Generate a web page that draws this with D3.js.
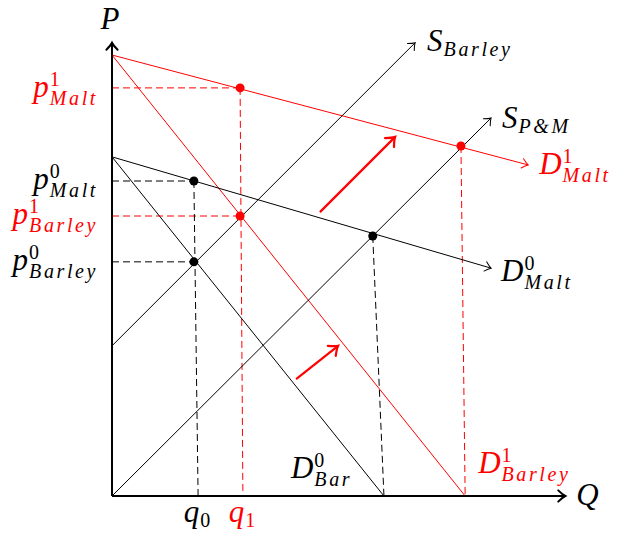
<!DOCTYPE html>
<html>
<head>
<meta charset="utf-8">
<script src="https://cdn.jsdelivr.net/npm/d3@7"></script>
<style>
  body { margin: 0; background: #fff; }
  text { font-family: "Liberation Serif", "DejaVu Serif", serif; }
</style>
</head>
<body>
<div id="chart"></div>
<script>
// curves, in chart units (origin at bottom-left of the axes)
const dMalt1   = [[0, 12.6], [11.89, 9.46]];
const dBarley1 = [[0, 12.6], [10.09, 0]];
const dMalt0   = [[0, 9.69], [10.83, 6.51]];
const dBar0    = [[0, 9.69], [7.77, 0]];
const sBarley  = [[0, 4.29], [8.66, 12.95]];
const sPM      = [[0, 0], [10.83, 10.8]];

// equilibrium points: [x, y, foot x on the Q axis, colour]
const points = [
  [2.34, 9.0, 2.46, "black"],
  [2.34, 6.69, 2.46, "black"],
  [7.45, 7.43, 7.77, "black"],
  [3.66, 11.66, 3.74, "red"],
  [3.66, 8.0, 3.74, "red"],
  [9.97, 10.0, 10.09, "red"]
];
// which points get a horizontal guide to the P axis
const hGuides = [0, 1, 3, 4];
// which points get a vertical guide to the Q axis
const vGuides = [0, 2, 3, 5];

const shiftArrows = [[[5.94, 8.11], [8.09, 10.26]], [[5.26, 3.34], [6.46, 4.29]]];

const width = 617, height = 534;
const axisMax = 12.95;

let svg = d3.select("#chart").append("svg")
  .attr("width", width).attr("height", height);

let x = d3.scaleLinear().domain([0, 13]).range([112, 567]);
let y = d3.scaleLinear().domain([0, 13]).range([496, 41]);

let defs = svg.append("defs");
function marker(id, color, size, sw) {
  defs.append("marker")
    .attr("id", id)
    .attr("viewBox", "-10 -10 20 20")
    .attr("refX", 0).attr("refY", 0)
    .attr("markerUnits", "userSpaceOnUse")
    .attr("markerWidth", 20).attr("markerHeight", 20)
    .attr("orient", "auto")
    .append("path")
    .attr("d", `M${-size},${-size * 0.8} Q${-size * 0.4},${-size * 0.2} 0,0 Q${-size * 0.4},${size * 0.2} ${-size},${size * 0.8}`)
    .attr("fill", "none")
    .attr("stroke", color)
    .attr("stroke-width", sw)
    .attr("stroke-linecap", "round");
}
marker("arr-k", "black", 6, 1);
marker("arr-r", "red", 6, 1);
marker("arr-axis", "black", 7, 2);
marker("arr-shift", "red", 8, 2.2);

let line = d3.line().x(d => x(d[0])).y(d => y(d[1]));

// dashed guides
hGuides.forEach(i => {
  let p = points[i];
  svg.append("path")
    .attr("d", line([[0, p[1]], [p[0], p[1]]]))
    .attr("stroke", p[3]).attr("stroke-width", 1)
    .attr("stroke-dasharray", "7,4").attr("fill", "none");
});
vGuides.forEach(i => {
  let p = points[i];
  svg.append("path")
    .attr("d", line([[p[0], p[1]], [p[2], 0]]))
    .attr("stroke", p[3]).attr("stroke-width", 1)
    .attr("stroke-dasharray", "7,4").attr("fill", "none");
});

// curves
const curves = [
  [dMalt1, "red", "arr-r"],
  [dBarley1, "red", null],
  [dMalt0, "black", "arr-k"],
  [dBar0, "black", null],
  [sBarley, "black", "arr-k"],
  [sPM, "black", "arr-k"]
];
curves.forEach(c => {
  let p = svg.append("path")
    .attr("d", line(c[0]))
    .attr("stroke", c[1]).attr("stroke-width", 1).attr("fill", "none");
  if (c[2]) p.attr("marker-end", `url(#${c[2]})`);
});

// axes
svg.append("path").attr("d", line([[0, 0], [0, axisMax]]))
  .attr("stroke", "black").attr("stroke-width", 2).attr("fill", "none")
  .attr("marker-end", "url(#arr-axis)");
svg.append("path").attr("d", line([[0, 0], [axisMax, 0]]))
  .attr("stroke", "black").attr("stroke-width", 2).attr("fill", "none")
  .attr("marker-end", "url(#arr-axis)");

// shift arrows
shiftArrows.forEach(a => {
  svg.append("path").attr("d", line(a))
    .attr("stroke", "red").attr("stroke-width", 2.2).attr("fill", "none")
    .attr("marker-end", "url(#arr-shift)");
});

// dots
svg.selectAll(".dot").data(points).join("circle")
  .attr("class", "dot")
  .attr("cx", d => x(d[0])).attr("cy", d => y(d[1]))
  .attr("r", 4.5).attr("fill", d => d[3]);

// labels: [anchor x, anchor y, dx, dy, main, sup, sub, colour, align]
const labels = [
  [0, axisMax, -2, -14, "P", "", "", "black", "middle"],
  [axisMax, 0, 11, 9, "Q", "", "", "black", "start"],
  [0, 11.66, -14, 9, "p", "1", "Malt", "red", "end"],
  [0, 9.0, -14, 8, "p", "0", "Malt", "black", "end"],
  [0, 8.0, -14, 8, "p", "1", "Barley", "red", "end"],
  [0, 6.69, -14, 8, "p", "0", "Barley", "black", "end"],
  [8.66, 12.95, 12, 8, "S", "", "Barley", "black", "start"],
  [10.83, 10.8, 11, 10, "S", "", "P&M", "black", "start"],
  [11.89, 9.46, 11, 9, "D", "1", "Malt", "red", "start"],
  [10.83, 6.51, 10, 13, "D", "0", "Malt", "black", "start"],
  [7.77, 0, -93, -18, "D", "0", "Bar", "black", "start"],
  [10.09, 0, 13, -23, "D", "1", "Barley", "red", "start"],
  [2.46, 0, -1, 26, "q", "", "0", "black", "middle"],
  [3.74, 0, -1, 26, "q", "", "1", "red", "middle"]
];

labels.forEach(l => {
  let g = svg.append("g");
  let main = g.append("text").text(l[4])
    .attr("font-size", 31).style("font-style", "italic").attr("fill", l[7]);
  let mw = main.node().getComputedTextLength();
  let sw = 0;
  if (l[5]) {
    let t = g.append("text").text(l[5]).attr("x", mw + 1).attr("y", -11)
      .attr("font-size", 20).style("font-style", "normal").attr("fill", l[7]);
    sw = Math.max(sw, t.node().getComputedTextLength() + 1);
  }
  if (l[6]) {
    let isNum = /^\d$/.test(l[6]);
    let t = g.append("text").text(l[6]).attr("x", mw + 1).attr("y", l[5] ? 8 : 5)
      .attr("font-size", 20).attr("fill", l[7])
      .attr("letter-spacing", isNum ? 0 : 2.6)
      .style("font-style", isNum ? "normal" : "italic");
    sw = Math.max(sw, t.node().getComputedTextLength() + 1);
  }
  let total = mw + sw;
  let ox = x(l[0]) + l[2];
  if (l[8] === "end") ox -= total;
  else if (l[8] === "middle") ox -= total / 2;
  g.attr("transform", `translate(${ox},${y(l[1]) + l[3]})`);
});
</script>
</body>
</html>
